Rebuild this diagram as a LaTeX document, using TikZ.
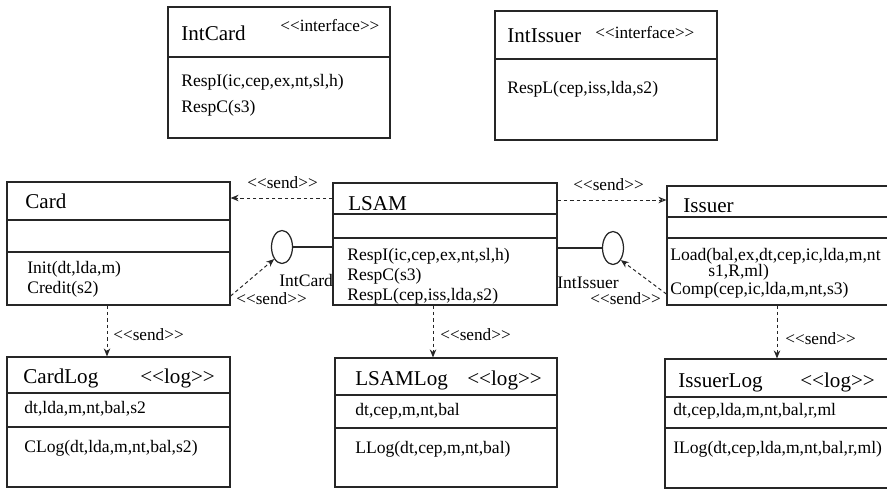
\documentclass[tikz,border=0pt]{standalone}
\usepackage{fontspec}
\setmainfont{Liberation Serif}[Ligatures=TeXOff]
\usetikzlibrary{arrows.meta,shapes.geometric,fit}

\begin{document}
\begin{tikzpicture}[
	x=0.02cm,y=-0.02cm,
	% Class boxes and their compartments
	classBox/.style={
		draw=black!85,
		line width=0.7pt,
		inner sep=0pt
	},
	compartment/.style={
		draw=black!85,
		line width=0.7pt
	},
	% Provided interfaces (lollipops)
	ifaceBall/.style={
		ellipse,
		draw=black!85,
		line width=0.7pt,
		minimum width=0.42cm,
		minimum height=0.66cm,
		inner sep=0pt
	},
	ifaceLine/.style={
		draw=black!85,
		line width=0.7pt
	},
	sendArrow/.style={
		-{Stealth[length=1.6mm,width=1.3mm]},
		dash pattern=on 2pt off 1.6pt,
		line width=0.55pt,
		black!85
	},
	nameText/.style={
		font=\fontsize{12}{14}\selectfont,
		inner sep=0pt,
		anchor=base west
	},
	opText/.style={
		font=\fontsize{10}{12}\selectfont,
		inner sep=0pt,
		anchor=base west
	},
	stereoText/.style={
		font=\fontsize{9.8}{11}\selectfont,
		inner sep=0pt,
		anchor=base west
	}
	]
	
	\useasboundingbox (0,0) rectangle (887,491);
	\clip (0,0) rectangle (887,491);
	\fill[white] (0,0) rectangle (887,491);
	
	% Interface IntCard
	\node[classBox, fit={(168,7) (390,138)}] (intCard) {};
	\draw[compartment] (intCard.west |- 0,57) -- (intCard.east |- 0,57);
	\node[nameText]   (intCardName)   at (181,40)  {IntCard};
	\node[stereoText] (intCardStereo) at (280,31)  {<<interface>>};
	\node[opText]     (intCardOpI)    at (181,86)  {RespI(ic,cep,ex,nt,sl,h)};
	\node[opText]     (intCardOpC)    at (181,112) {RespC(s3)};
	
	% Interface IntIssuer
	\node[classBox, fit={(495,11) (717,140)}] (intIssuer) {};
	\draw[compartment] (intIssuer.west |- 0,59) -- (intIssuer.east |- 0,59);
	\node[nameText]   (intIssuerName)   at (507,42) {IntIssuer};
	\node[stereoText] (intIssuerStereo) at (595,38) {<<interface>>};
	\node[opText]     (intIssuerOpL)    at (507,93) {RespL(cep,iss,lda,s2)};
	
	% Class Card
	\node[classBox, fit={(7,182) (230,305)}] (card) {};
	\draw[compartment] (card.west |- 0,220) -- (card.east |- 0,220);
	\draw[compartment] (card.west |- 0,252) -- (card.east |- 0,252);
	\node[nameText] (cardName)   at (25,208) {Card};
	\node[opText]   (cardInit)   at (27,273) {Init(dt,lda,m)};
	\node[opText]   (cardCredit) at (27,293) {Credit(s2)};
	
	% Class LSAM
	\node[classBox, fit={(333,183) (557,305)}] (lsam) {};
	\draw[compartment] (lsam.west |- 0,214) -- (lsam.east |- 0,214);
	\draw[compartment] (lsam.west |- 0,238) -- (lsam.east |- 0,238);
	\node[nameText] (lsamName) at (348,210) {LSAM};
	\node[opText]   (lsamOpI)  at (347,260) {RespI(ic,cep,ex,nt,sl,h)};
	\node[opText]   (lsamOpC)  at (347,280) {RespC(s3)};
	\node[opText]   (lsamOpL)  at (347,300) {RespL(cep,iss,lda,s2)};
	
	% Class Issuer (runs off the right edge)
	\node[classBox, fit={(667,186) (930,305)}] (issuer) {};
	\draw[compartment] (issuer.west |- 0,217) -- (issuer.east |- 0,217);
	\draw[compartment] (issuer.west |- 0,238) -- (issuer.east |- 0,238);
	\node[nameText] (issuerName)  at (683,212) {Issuer};
	\node[opText]   (issuerLoad)  at (670,260) {Load(bal,ex,dt,cep,ic,lda,m,nt};
	\node[opText]   (issuerLoadB) at (708,276) {s1,R,ml)};
	\node[opText]   (issuerComp)  at (670,294) {Comp(cep,ic,lda,m,nt,s3)};
	
	% Log classes
	\node[classBox, fit={(7,357) (230,487)}] (cardLog) {};
	\draw[compartment] (cardLog.west |- 0,393) -- (cardLog.east |- 0,393);
	\draw[compartment] (cardLog.west |- 0,427) -- (cardLog.east |- 0,427);
	\node[nameText] (cardLogName)   at (23,383)  {CardLog};
	\node[nameText] (cardLogStereo) at (140,383) {<<log>>};
	\node[opText]   (cardLogAttr)   at (24,413)  {dt,lda,m,nt,bal,s2};
	\node[opText]   (cardLogOp)     at (24,452)  {CLog(dt,lda,m,nt,bal,s2)};
	
	\node[classBox, fit={(335,358) (557,487)}] (lsamLog) {};
	\draw[compartment] (lsamLog.west |- 0,395) -- (lsamLog.east |- 0,395);
	\draw[compartment] (lsamLog.west |- 0,428) -- (lsamLog.east |- 0,428);
	\node[nameText] (lsamLogName)   at (355,385) {LSAMLog};
	\node[nameText] (lsamLogStereo) at (467,385) {<<log>>};
	\node[opText]   (lsamLogAttr)   at (355,415) {dt,cep,m,nt,bal};
	\node[opText]   (lsamLogOp)     at (355,453) {LLog(dt,cep,m,nt,bal)};
	
	\node[classBox, fit={(665,359) (930,488)}] (issuerLog) {};
	\draw[compartment] (issuerLog.west |- 0,397) -- (issuerLog.east |- 0,397);
	\draw[compartment] (issuerLog.west |- 0,428) -- (issuerLog.east |- 0,428);
	\node[nameText] (issuerLogName)   at (678,387) {IssuerLog};
	\node[nameText] (issuerLogStereo) at (800,387) {<<log>>};
	\node[opText]   (issuerLogAttr)   at (673,415) {dt,cep,lda,m,nt,bal,r,ml};
	\node[opText]   (issuerLogOp)     at (673,453) {ILog(dt,cep,lda,m,nt,bal,r,ml)};
	
	% Lollipops on LSAM
	\node[ifaceBall] (intCardBall)   at (282,247) {};
	\node[ifaceBall] (intIssuerBall) at (613,248) {};
	\draw[ifaceLine] (intCardBall.east) -- (intCardBall.east -| lsam.west);
	\draw[ifaceLine] (intIssuerBall.west) -- (intIssuerBall.west -| lsam.east);
	\node[opText] (intCardLbl)   at (279,286) {IntCard};
	\node[opText] (intIssuerLbl) at (557,288) {IntIssuer};
	
	% Send dependencies
	\draw[sendArrow] (lsam.west |- 0,198) -- (card.east |- 0,198);
	\draw[sendArrow, -{Stealth[open,length=1.6mm,width=1.3mm]}]
		(lsam.east |- 0,200) -- (issuer.west |- 0,200);
	\draw[sendArrow] (card.east |- 0,296) -- (intCardBall.south west);
	\draw[sendArrow] (issuer.west |- 0,294) -- (intIssuerBall.south east);
	
	\node[stereoText] (sendCardLbl)     at (247,188) {<<send>>};
	\node[stereoText] (sendIssuerLbl)   at (573,190) {<<send>>};
	\node[stereoText] (sendIntCardLbl)  at (236,304) {<<send>>};
	\node[stereoText] (sendIntIssLbl)   at (590,304) {<<send>>};
	
	% Send to the logs
	\draw[sendArrow] (107,0 |- card.south)   -- (107,0 |- cardLog.north);
	\draw[sendArrow] (433,0 |- lsam.south)   -- (433,0 |- lsamLog.north);
	\draw[sendArrow] (777,0 |- issuer.south) -- (777,0 |- issuerLog.north);
	
	\node[stereoText] (sendCardLogLbl)   at (113,340) {<<send>>};
	\node[stereoText] (sendLsamLogLbl)   at (440,340) {<<send>>};
	\node[stereoText] (sendIssuerLogLbl) at (785,344) {<<send>>};
	
\end{tikzpicture}
\end{document}
